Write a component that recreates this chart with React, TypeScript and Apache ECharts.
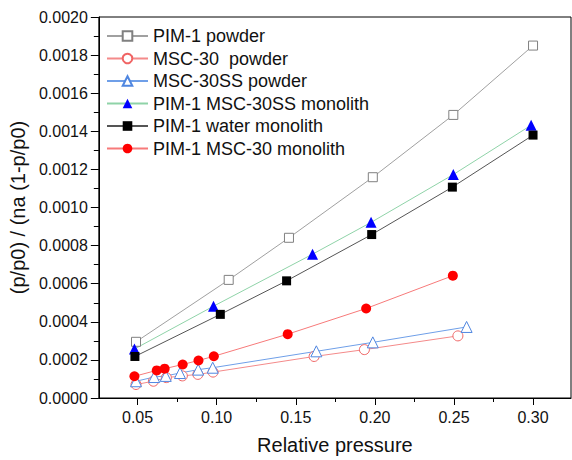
import React, { useEffect, useRef } from "react";
import * as echarts from "echarts";

// ---- data ----
const pimPowderX = [0.049, 0.1076, 0.1457, 0.1987, 0.2496, 0.3];
const pimPowderY = [0.000295, 0.00062, 0.000841, 0.001159, 0.001486, 0.00185];

const mscPowderX = [0.049, 0.06, 0.0682, 0.0783, 0.0881, 0.0977, 0.1616, 0.1934, 0.2525];
const mscPowderY = [0.000071, 0.000088, 0.000107, 0.000116, 0.000124, 0.000136, 0.000218, 0.000254, 0.000326];

const mscSSPowderX = [0.049, 0.0605, 0.0678, 0.0768, 0.0883, 0.0975, 0.163, 0.1987, 0.258];
const mscSSPowderY = [0.000088, 0.00011, 0.000116, 0.000131, 0.000149, 0.000159, 0.000245, 0.000292, 0.000373];

const pimMscSSMonoX = [0.048, 0.098, 0.1606, 0.1976, 0.2496, 0.2988];
const pimMscSSMonoY = [0.000257, 0.000482, 0.000755, 0.000922, 0.001173, 0.001432];

const pimWaterMonoX = [0.0483, 0.1023, 0.1442, 0.198, 0.249, 0.3];
const pimWaterMonoY = [0.000218, 0.000439, 0.000615, 0.000858, 0.001107, 0.00138];

const pimMscMonoX = [0.048, 0.0621, 0.0671, 0.0785, 0.0885, 0.0982, 0.1449, 0.1945, 0.2493];
const pimMscMonoY = [0.000114, 0.000145, 0.000154, 0.000176, 0.000197, 0.000219, 0.000335, 0.00047, 0.000642];

const seriesNames = [
  "PIM-1 powder",
  "MSC-30  powder",
  "MSC-30SS powder",
  "PIM-1 MSC-30SS monolith",
  "PIM-1 water monolith",
  "PIM-1 MSC-30 monolith",
];

const xMajorTicks = [0.05, 0.1, 0.15, 0.2, 0.25, 0.3];
const xMinorTicks = [0.075, 0.125, 0.175, 0.225, 0.275];

const pairs = (xs: number[], ys: number[]) => xs.map((x, i) => [x, ys[i]]);

const FONT = "'Liberation Sans', Arial, sans-serif";
const legendText = { fontSize: 18, color: "#111", fontFamily: FONT };

export default function App() {
  const ref = useRef<HTMLDivElement>(null);
  useEffect(() => {
    document.body.style.margin = "0";
    const chart = echarts.init(ref.current!, null, { renderer: "svg" });
    const mk = (
      name: string,
      data: number[][],
      symbol: string,
      size: number,
      lineColor: string,
      fill: string,
      border: string
    ) => ({
      name,
      type: "line",
      data,
      symbol,
      symbolSize: size,
      showSymbol: true,
      lineStyle: { color: lineColor, width: 1 },
      itemStyle: { color: fill, borderColor: border, borderWidth: fill === "#ffffff" ? 1 : 0 },
      emphasis: { disabled: true },
    });
    chart.setOption({
      animation: false,
      textStyle: { fontFamily: FONT },
      grid: {
        left: 96,
        right: 1,
        top: 17,
        bottom: 57,
        show: true,
        borderColor: "#000",
        borderWidth: 1,
      },
      legend: {
        orient: "vertical",
        left: 101,
        top: 22,
        itemWidth: 41,
        itemHeight: 12,
        itemGap: 4.5,
        padding: 5,
        data: seriesNames.map((n) => ({ name: n, textStyle: legendText })),
        textStyle: legendText,
      },
      xAxis: [
        {
          type: "value",
          min: 0.0255,
          max: 0.324,
          splitLine: { show: false },
          axisLine: { show: true, onZero: false, lineStyle: { color: "#000", width: 1 } },
          axisTick: { show: true, length: 7, customValues: xMajorTicks, lineStyle: { color: "#000" } },
          axisLabel: {
            customValues: xMajorTicks,
            formatter: (v: number) => v.toFixed(2),
            fontSize: 16,
            color: "#111",
            margin: 11,
            fontFamily: FONT,
          },
          name: "Relative pressure",
          nameLocation: "middle",
          nameGap: 37,
          nameTextStyle: { fontSize: 20, color: "#111", fontFamily: FONT },
        },
        {
          type: "value",
          position: "bottom",
          min: 0.0255,
          max: 0.324,
          splitLine: { show: false },
          axisLine: { show: false },
          axisTick: { show: true, length: 4, customValues: xMinorTicks, lineStyle: { color: "#000" } },
          axisLabel: { show: false },
        },
      ],
      yAxis: {
        type: "value",
        min: 0,
        max: 0.002,
        interval: 0.0002,
        splitLine: { show: false },
        axisLine: { show: true, lineStyle: { color: "#000", width: 1 } },
        axisTick: { show: true, length: 8, lineStyle: { color: "#000" } },
        minorTick: { show: true, splitNumber: 2, length: 5, lineStyle: { color: "#000" } },
        axisLabel: {
          formatter: (v: number) => v.toFixed(4),
          fontSize: 16,
          color: "#111",
          margin: 11,
          fontFamily: FONT,
        },
        name: "(p/p0) / (na (1-p/p0)",
        nameLocation: "middle",
        nameRotate: 90,
        nameGap: 66,
        nameTextStyle: { fontSize: 20, color: "#111", fontFamily: FONT },
      },
      series: [
        mk(seriesNames[0], pairs(pimPowderX, pimPowderY), "rect", 9, "#a0a0a0", "#ffffff", "#808080"),
        mk(seriesNames[1], pairs(mscPowderX, mscPowderY), "circle", 10, "#f48a8a", "#ffffff", "#f06464"),
        mk(seriesNames[2], pairs(mscSSPowderX, mscSSPowderY), "triangle", 11, "#6f9fe8", "#ffffff", "#4f86e0"),
        mk(seriesNames[3], pairs(pimMscSSMonoX, pimMscSSMonoY), "triangle", 11, "#8fd3a8", "#0000ff", "#0000ff"),
        mk(seriesNames[4], pairs(pimWaterMonoX, pimWaterMonoY), "rect", 9, "#555555", "#000000", "#000000"),
        mk(seriesNames[5], pairs(pimMscMonoX, pimMscMonoY), "circle", 10, "#f77a7a", "#ff0000", "#ff0000"),
      ],
    });
    return () => chart.dispose();
  }, []);
  return <div ref={ref} style={{ width: 572, height: 460 }} />;
}
